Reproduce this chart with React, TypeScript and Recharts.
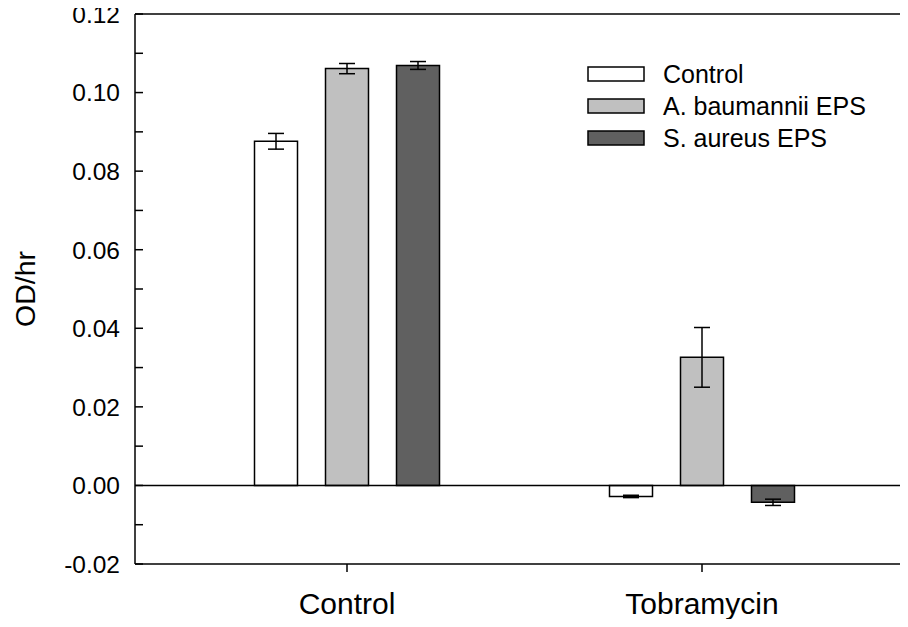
import React from "react";
import { BarChart, Bar, XAxis, YAxis, ErrorBar, ReferenceLine, Customized } from "recharts";

const categories = ["Control", "Tobramycin"];
const controlValues = [0.0876, -0.0028];
const controlErrors = [0.002, 0.0003];
const baumanniiValues = [0.1061, 0.0326];
const baumanniiErrors = [0.0013, 0.0076];
const aureusValues = [0.1069, -0.0043];
const aureusErrors = [0.001, 0.0008];
const yTicks = [-0.02, -0.01, 0, 0.01, 0.02, 0.03, 0.04, 0.05, 0.06, 0.07, 0.08, 0.09, 0.1, 0.11, 0.12];

const seriesNames = ["Control", "A. baumannii EPS", "S. aureus EPS"];
const seriesColors = ["#ffffff", "#c0c0c0", "#606060"];

const data = categories.map((name, i) => ({
  name,
  control: controlValues[i],
  controlErr: controlErrors[i],
  baumannii: baumanniiValues[i],
  baumanniiErr: baumanniiErrors[i],
  aureus: aureusValues[i],
  aureusErr: aureusErrors[i],
}));

const FONT = "'Liberation Sans', Arial, sans-serif";

const YTick = (props: any) => {
  const { x, y, payload } = props;
  const v = payload.value;
  const major = Math.round(v * 100) % 2 === 0;
  return (
    <g>
      <line x1={x} y1={y} x2={x + 8} y2={y} stroke="#000" strokeWidth={1.5} />
      {major && (
        <text x={x - 15} y={y} dy="0.36em" textAnchor="end" fontSize={24.5} fontFamily={FONT} fill="#000">
          {v.toFixed(2)}
        </text>
      )}
    </g>
  );
};

// legend drawn inside the svg so it takes no room from the plot
const LegendBox = () => (
  <g transform="translate(587, 66)">
    {seriesNames.map((n, i) => (
      <g key={n}>
        <rect x={1} y={1 + i * 32} width={56} height={14} fill={seriesColors[i]} stroke="#000" strokeWidth={1.5} />
        <text x={76} y={8 + i * 32} dy="0.36em" fontSize={25} fontFamily={FONT} fill="#000">
          {n}
        </text>
      </g>
    ))}
  </g>
);

export default function App() {
  // negative margins collapse with the body margin so the chart sits at the page origin
  return (
    <div style={{ position: "relative", margin: -8, width: 908, height: 627, overflow: "hidden" }}>
      <BarChart
        width={930}
        height={627}
        data={data}
        margin={{ top: 14, right: 16, bottom: 0, left: 0 }}
        barSize={43}
        barGap={28}
      >
        <XAxis
          dataKey="name"
          height={63}
          padding={{ left: 34.5, right: 34.5 }}
          axisLine={{ stroke: "#000", strokeWidth: 1.5 }}
          tickLine={{ stroke: "#000", strokeWidth: 1.5 }}
          tickSize={8}
          tickMargin={21}
          tick={{ fontSize: 30, fill: "#000", fontFamily: FONT }}
        />
        <YAxis
          width={135}
          domain={[-0.02, 0.12]}
          ticks={yTicks}
          interval={0}
          allowDataOverflow
          tickSize={0}
          tickMargin={0}
          tickLine={false}
          axisLine={{ stroke: "#000", strokeWidth: 1.5 }}
          tick={<YTick />}
          label={{
            content: (p: any) => {
              const vb = p.viewBox || { y: 14, height: 550 };
              const cy = vb.y + vb.height / 2;
              return (
                <text
                  x={25}
                  y={cy}
                  transform={`rotate(-90 25 ${cy})`}
                  textAnchor="middle"
                  dy="0.36em"
                  fontSize={28.5}
                  fontFamily={FONT}
                  fill="#000"
                >
                  OD/hr
                </text>
              );
            },
          }}
        />
        <ReferenceLine y={0.12} stroke="#000" strokeWidth={1.5} />
        <ReferenceLine y={0} stroke="#000" strokeWidth={1.5} />
        <Bar dataKey="control" name={seriesNames[0]} fill={seriesColors[0]} stroke="#000" strokeWidth={1.5} isAnimationActive={false}>
          <ErrorBar dataKey="controlErr" direction="y" width={8} stroke="#000" strokeWidth={1.5} />
        </Bar>
        <Bar dataKey="baumannii" name={seriesNames[1]} fill={seriesColors[1]} stroke="#000" strokeWidth={1.5} isAnimationActive={false}>
          <ErrorBar dataKey="baumanniiErr" direction="y" width={8} stroke="#000" strokeWidth={1.5} />
        </Bar>
        <Bar dataKey="aureus" name={seriesNames[2]} fill={seriesColors[2]} stroke="#000" strokeWidth={1.5} isAnimationActive={false}>
          <ErrorBar dataKey="aureusErr" direction="y" width={8} stroke="#000" strokeWidth={1.5} />
        </Bar>
        <Customized component={<LegendBox />} />
      </BarChart>
    </div>
  );
}
